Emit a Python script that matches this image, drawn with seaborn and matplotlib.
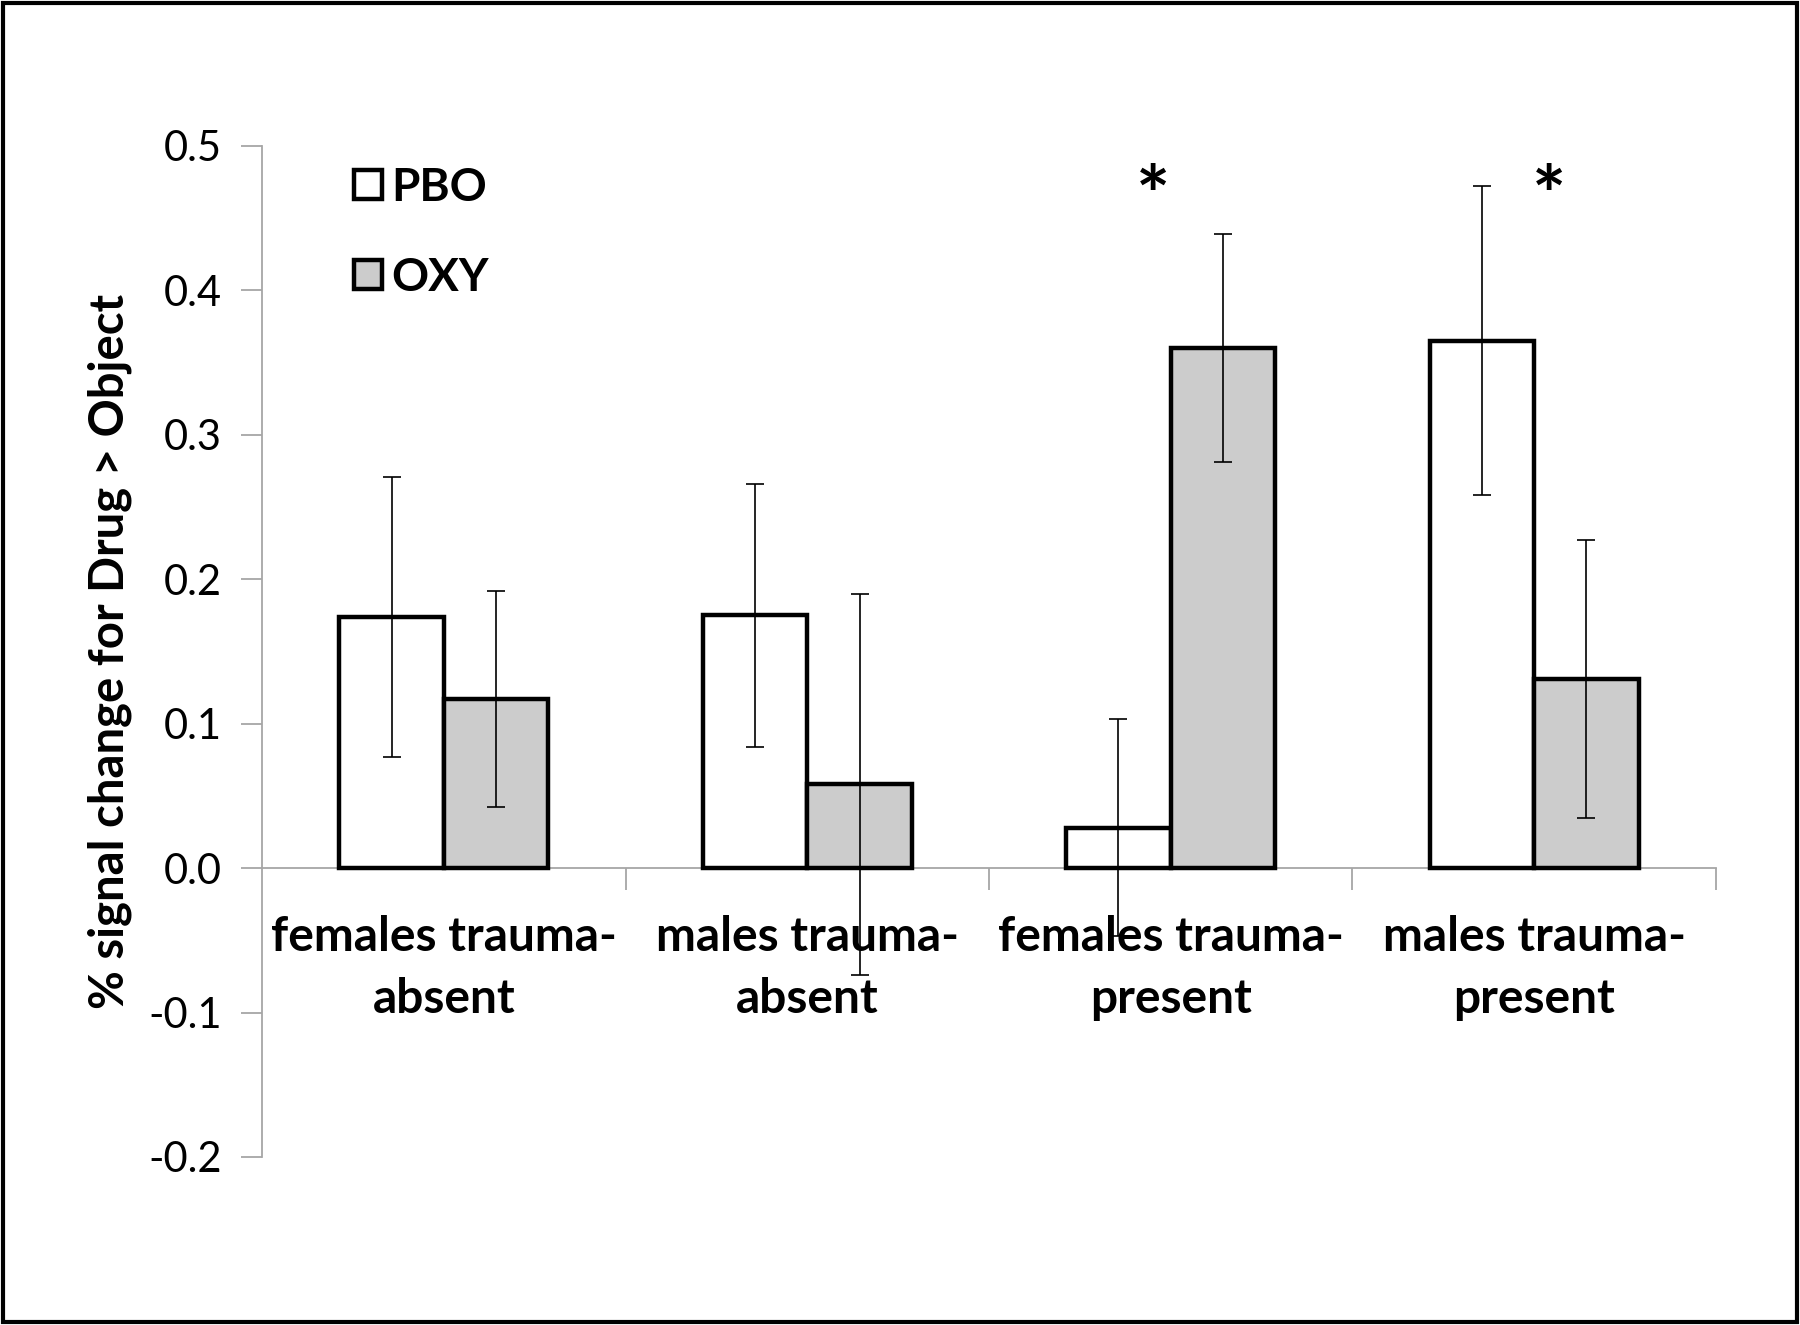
import pandas as pd
import matplotlib.pyplot as plt
import matplotlib.patches as mpatches
import seaborn as sns

# values
categories = ["females trauma-\nabsent", "males trauma-\nabsent",
              "females trauma-\npresent", "males trauma-\npresent"]
groups = ["PBO", "OXY"]
pbo_means = [0.174, 0.175, 0.028, 0.365]
pbo_err = [0.097, 0.091, 0.075, 0.107]
oxy_means = [0.117, 0.058, 0.360, 0.131]
oxy_err = [0.075, 0.132, 0.079, 0.096]
star_cats = [2, 3]
star_offsets = [-0.05, 0.04]
y_ticks = [-0.2, -0.1, 0.0, 0.1, 0.2, 0.3, 0.4, 0.5]

sns.set_style("white")
plt.rcParams['font.family'] = ['Lato', 'DejaVu Sans']
plt.rcParams['axes.unicode_minus'] = False
plt.rcParams['text.color'] = 'black'
plt.rcParams['axes.labelcolor'] = 'black'

df = pd.DataFrame({
    "category": categories * 2,
    "group": [groups[0]] * 4 + [groups[1]] * 4,
    "value": pbo_means + oxy_means,
})

fig = plt.figure(figsize=(18, 13.25), dpi=100)
ax = fig.add_axes([0.1456, 0.1268, 0.8077, 0.7632])

sns.barplot(data=df, x="category", y="value", hue="group", order=categories,
            hue_order=groups, palette={"PBO": "white", "OXY": "#cccccc"},
            width=0.575, errorbar=None, edgecolor="black", linewidth=3.2,
            saturation=1, ax=ax, zorder=3)

# error bars on top of each bar
for cont, errs in zip(ax.containers, [pbo_err, oxy_err]):
    for bar, e in zip(cont, errs):
        xc = bar.get_x() + bar.get_width() / 2
        ax.errorbar(xc, bar.get_height(), yerr=e, fmt="none", ecolor="black",
                    elinewidth=1.2, capsize=6.5, capthick=1.2, zorder=4)

for c, off in zip(star_cats, star_offsets):
    ax.text(c + off, 0.462, "*", ha="center", va="center", fontsize=58,
            fontweight="bold", color="black")

ax.set_xlim(-0.5, 3.5)
ax.set_ylim(-0.2, 0.5)
ax.set_xticks([0.5, 1.5, 2.5, 3.5], minor=True)
ax.tick_params(axis="x", which="major", bottom=True, length=0, pad=34,
               labelsize=34.5, labelcolor="black")
ax.tick_params(axis="x", which="minor", bottom=True, length=16, width=1.3,
               color="#a6a6a6", direction="out")
ax.tick_params(axis="y", left=True, length=15, width=1.3, color="#a6a6a6",
               pad=14, labelsize=30, direction="out", labelcolor="black")
ax.set_yticks(y_ticks, [f"{t:.1f}" for t in y_ticks])

ax.spines["top"].set_visible(False)
ax.spines["right"].set_visible(False)
ax.spines["bottom"].set_position(("data", 0))
for s in ["left", "bottom"]:
    ax.spines[s].set_color("#a6a6a6")
    ax.spines[s].set_linewidth(1.3)

ax.set_xlabel("")
ax.set_ylabel("% signal change for Drug > Object", fontsize=34,
              fontweight="bold", labelpad=12, color="black")

handles = [mpatches.Patch(facecolor="white", edgecolor="black", linewidth=3.2),
           mpatches.Patch(facecolor="#cccccc", edgecolor="black", linewidth=3.2)]
ax.legend(handles, groups, loc="upper left", bbox_to_anchor=(0.035, 1.02),
          frameon=False, prop={"weight": "bold", "size": 33},
          handlelength=0.6, handleheight=0.6, handletextpad=0.2,
          labelspacing=1.05, labelcolor="black")

# category labels last so nothing resets them
ax.set_xticks(range(len(categories)))
ax.set_xticklabels(categories, fontsize=34.5, fontweight="bold",
                   linespacing=1.5, color="black")

fig.patches.append(mpatches.Rectangle((0.0015, 0.002), 0.997, 0.996,
                                      transform=fig.transFigure, fill=False,
                                      edgecolor="black", linewidth=3))

fig.savefig("out.png", dpi=100)
